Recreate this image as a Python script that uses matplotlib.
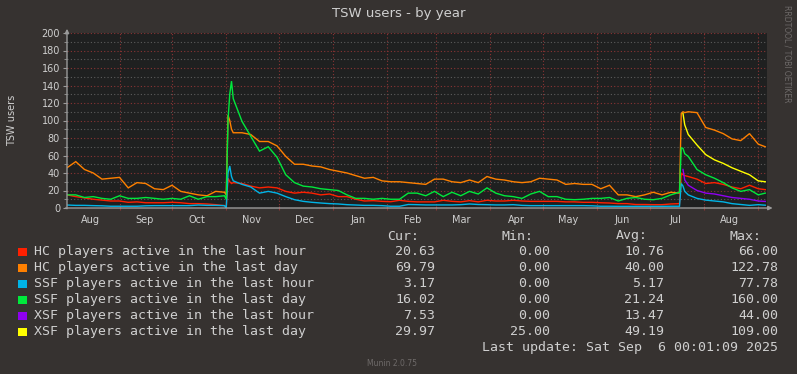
import numpy as np
import matplotlib
matplotlib.use("Agg")
import matplotlib.pyplot as plt
from matplotlib.patches import Rectangle

W, H = 797, 374

# x = days since 2024-08-02 (left edge), graph ends 2025-09-06
days = ([0, 5, 10, 15, 20, 25, 30, 35, 40, 45, 50, 55, 60, 65, 70, 75, 80, 85, 90]
        + [91, 92, 93, 94]
        + list(range(95, 351, 5))
        + [351, 352, 353]
        + list(range(355, 396, 5))
        + [399])

hc_hour = [15, 13, 11.5, 10, 9, 8, 8, 6.5, 7, 6, 6, 6, 6.5, 6, 5, 5, 4.6, 3.8, 2.7,
           1, 34, 30, 28,
           29, 28, 25, 23, 24, 23, 19, 17, 18, 17,
           15, 16, 13, 13, 10, 8, 8.4, 7.6, 7.2, 8.8,
           7.6, 7, 7, 7, 8.8, 7.6, 7, 8.4, 7, 8.8,
           8, 8, 8.8, 8, 7.6, 7.6, 7.6, 7.6, 7, 7,
           6.5, 6.5, 6, 5.7, 5, 5, 4, 4, 3.8, 3.8,
           4.6, 5,
           40, 38, 37,
           36, 33, 28, 29, 27, 24, 22, 26, 22,
           21]

hc_day = [46, 53, 44, 40, 33, 34, 35, 23, 29, 28, 22, 21, 26, 19, 17, 15, 14, 19, 18,
          15, 106, 100, 90,
          86, 86, 84, 76, 76, 71, 59, 50, 50, 48,
          47, 44, 42, 40, 37, 34, 35, 31, 30, 30,
          29, 28, 27, 33, 33, 30, 29, 32, 29, 36,
          33, 32, 30, 29, 30, 34, 33, 32, 27, 28,
          27, 27, 22, 26, 15, 15, 13, 15, 18, 15,
          18, 17,
          108, 110, 109,
          110, 109, 92, 89, 85, 79, 77, 85, 73,
          70]

ssf_hour = [3.4, 3, 3, 2.7, 2.5, 2, 2, 2, 2, 2.5, 2.7, 2.7, 2.7, 2.7, 2.7, 3.4, 3, 3, 2.7,
            0, 40, 48, 36,
            31, 27, 24, 17, 19, 17, 13, 9.5, 7.6, 6.5,
            5.7, 5, 4.6, 3.8, 3.4, 3, 3, 2.7, 2, 2,
            4, 3.8, 3.5, 3.5, 3.5, 3.5, 3.8, 4.6, 4, 3.8,
            3.5, 3.5, 3.8, 3, 2.7, 2.7, 2.7, 2.7, 2.7, 2.7,
            2.7, 2.5, 2, 2, 1.9, 1.9, 1.9, 1.9, 1.9, 1.9,
            2, 2,
            28, 25, 19,
            15, 11, 9, 8, 7, 5, 4, 3, 3.8,
            3.2]

ssf_day = [15, 15, 12, 13, 11, 10, 14, 11, 11, 12, 11, 10, 11, 10, 14, 10, 13, 13, 14,
           10, 100, 130, 145,
           125, 99, 82, 65, 70, 58, 38, 29, 25, 24,
           22, 21, 20, 15, 11, 11, 10, 11, 10, 10,
           17, 17, 14, 19, 13, 18, 14, 19, 16, 23,
           17, 14, 13, 11, 16, 19, 13, 13, 10, 9.5,
           10, 11, 11, 12, 8, 11, 12, 10, 9.5, 11,
           15, 18,
           69, 68, 62,
           59, 44, 38, 34, 29, 23, 19, 21, 15,
           17]

nan = np.nan
xsf_hour = [nan] * 75 + [nan, 44, 32,
                         26, 20, 17, 16, 14, 12, 11, 10, 8,
                         7.5]
xsf_day = [nan] * 75 + [nan, 108, 95,
                        84, 72, 61, 55, 51, 46, 42, 38, 31,
                        30]

labels = ["HC players active in the last hour",
          "HC players active in the last day",
          "SSF players active in the last hour",
          "SSF players active in the last day",
          "XSF players active in the last hour",
          "XSF players active in the last day"]
colors = ["#ff2000", "#ff8000", "#00b4e6", "#00e83c", "#9000f0", "#ffff00"]
cur_vals = [20.63, 69.79, 3.17, 16.02, 7.53, 29.97]
min_vals = [0.00, 0.00, 0.00, 0.00, 0.00, 25.00]
avg_vals = [10.76, 40.00, 5.17, 21.24, 13.47, 49.19]
max_vals = [66.00, 122.78, 77.78, 160.00, 44.00, 109.00]

month_names = ["Aug", "Sep", "Oct", "Nov", "Dec", "Jan", "Feb", "Mar",
               "Apr", "May", "Jun", "Jul", "Aug"]

BG = "#363230"
CANVAS = "#1f2020"
TXT = "#cfcfcf"
FAINT = "#6e6a69"
MAJOR = "#8a3434"
MINOR = "#5c5c5c"
AXC = "#9a9a9a"

start = np.datetime64("2024-08-02")
months = np.arange("2024-08", "2025-10", dtype="datetime64[M]").astype("datetime64[D]")
month_pos = (months - start).astype(float)

fig = plt.figure(figsize=(W / 100, H / 100), dpi=100, facecolor=BG)
ax = fig.add_axes([67 / W, 1 - 208 / H, 700 / W, 175 / H], facecolor=CANVAS)
ax.set_xlim(0, 400)
ax.set_ylim(0, 200)
for s in ax.spines.values():
    s.set_visible(False)

ax.set_yticks(range(0, 201, 20))
ax.set_yticks(range(10, 200, 20), minor=True)
ax.set_xticks([p for p in month_pos[1:] if p < 400])
ax.set_xticklabels([])
ax.set_xticks(month_pos[:-1] + 14.5, minor=True)
ax.set_xticklabels(month_names, minor=True)
ax.grid(which="major", color=MAJOR, linestyle=(0, (1, 2)), lw=0.8)
ax.grid(which="minor", axis="y", color=MINOR, linestyle=(0, (1, 2)), lw=0.8)
ax.tick_params(axis="y", which="major", length=3, color=AXC, labelsize=7, labelcolor=TXT, pad=2)
ax.tick_params(axis="y", which="minor", length=2, color=AXC)
ax.tick_params(axis="x", which="major", length=3, color=MAJOR, direction="inout")
ax.tick_params(axis="x", which="minor", length=0, labelsize=7, labelcolor=TXT, pad=5)
ax.set_axisbelow(True)

series = [hc_hour, hc_day, ssf_hour, ssf_day, xsf_hour, xsf_day]
for vals, c in zip(series, colors):
    ax.plot(days, vals, color=c, lw=1.0, solid_joinstyle="miter")

# axes with arrows
ax.annotate("", xy=(1.012, 0), xytext=(-0.006, 0), xycoords="axes fraction",
            arrowprops=dict(arrowstyle="-|>", color=AXC, lw=1, mutation_scale=6))
ax.annotate("", xy=(0, 1.04), xytext=(0, -0.02), xycoords="axes fraction",
            arrowprops=dict(arrowstyle="-|>", color=AXC, lw=1, mutation_scale=6))

fig.text(0.5, 1 - 13 / H, "TSW users - by year", ha="center", va="center",
         color=TXT, fontsize=9.5)
fig.text(12 / W, 1 - 120 / H, "TSW users", rotation=90, ha="center", va="center",
         color=TXT, fontsize=7)
fig.text(787 / W, 1 - 5 / H, "RRDTOOL / TOBI OETIKER", rotation=270, ha="center", va="top",
         color=FAINT, fontsize=5.5)
fig.text(392 / W, 1 - 363 / H, "Munin 2.0.75", ha="center", va="center",
         color=FAINT, fontsize=5.5)

mono = dict(family="DejaVu Sans Mono", fontsize=9.5, color=TXT, va="center")
fig.text(419 / W, 1 - 236 / H, "Cur:", ha="right", **mono)
fig.text(533 / W, 1 - 236 / H, "Min:", ha="right", **mono)
fig.text(648 / W, 1 - 236 / H, "Avg:", ha="right", **mono)
fig.text(762 / W, 1 - 236 / H, "Max:", ha="right", **mono)
for i, lab in enumerate(labels):
    yc = 251.5 + 16 * i
    fig.add_artist(Rectangle((18 / W, 1 - (yc + 4) / H), 9 / W, 8 / H,
                             transform=fig.transFigure, color=colors[i], lw=0))
    fig.text(34 / W, 1 - yc / H, lab, ha="left", **mono)
    fig.text(435 / W, 1 - yc / H, f"{cur_vals[i]:.2f}", ha="right", **mono)
    fig.text(550 / W, 1 - yc / H, f"{min_vals[i]:.2f}", ha="right", **mono)
    fig.text(664 / W, 1 - yc / H, f"{avg_vals[i]:.2f}", ha="right", **mono)
    fig.text(778 / W, 1 - yc / H, f"{max_vals[i]:.2f}", ha="right", **mono)
fig.text(778 / W, 1 - 347 / H, "Last update: Sat Sep  6 00:01:09 2025", ha="right", **mono)

fig.savefig("out.png", dpi=100, facecolor=BG)
